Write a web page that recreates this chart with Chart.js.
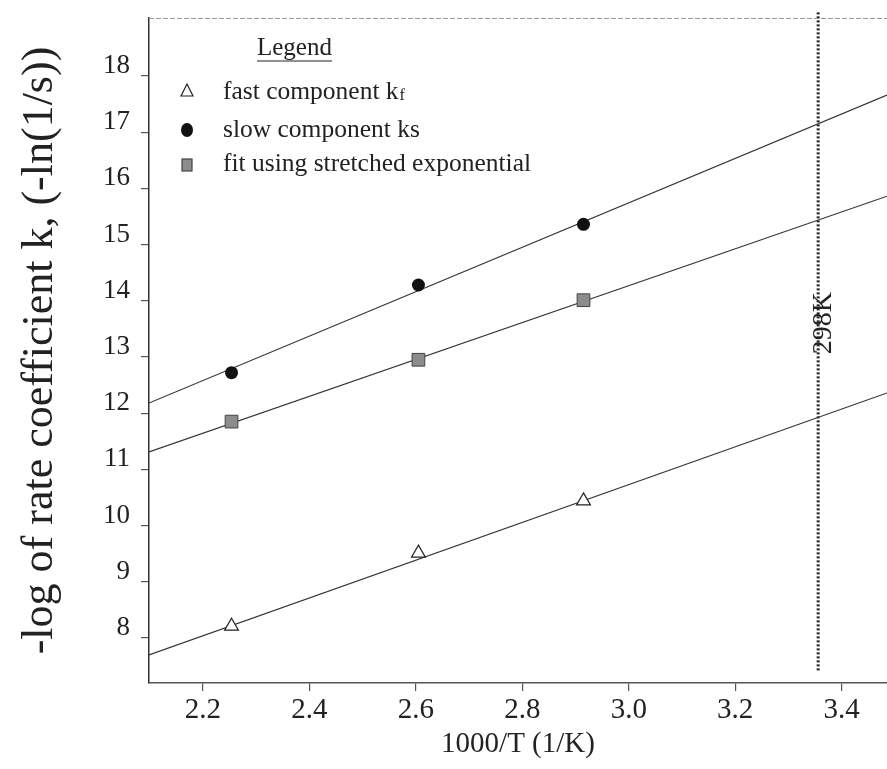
<!DOCTYPE html>
<html>
<head>
<meta charset="utf-8">
<script src="https://cdn.jsdelivr.net/npm/chart.js@4.4.1/dist/chart.umd.min.js"></script>
<style>
  body { margin: 0; background: #fff; }
  #ch1 { display: block; }
</style>
</head>
<body>
<canvas id="ch1" width="887" height="769"></canvas>
<script>
// axis ranges + ticks
var xMin = 2.099, xMax = 3.485;
var yMin = 7.2, yMax = 19.03;
var xTicks = [2.2, 2.4, 2.6, 2.8, 3.0, 3.2, 3.4];
var yTicks = [8, 9, 10, 11, 12, 13, 14, 15, 16, 17, 18];

// measured points (1000/T)
var invTemp = [2.254, 2.605, 2.915];
var fastK = [8.21, 9.51, 10.44];
var slowK = [12.72, 14.28, 15.36];
var fitK = [11.85, 12.95, 14.01];

// fitted lines, value at xMin and xMax
var lineX = [xMin, xMax];
var fastLine = [7.70, 12.36];
var slowLine = [12.18, 17.66];
var fitLine = [11.31, 15.86];

// room temperature marker
var roomTemp = 1000 / 298;
var roomLabel = '298K';

var serif = "'Liberation Serif', 'DejaVu Serif', serif";

function pts(xs, ys) {
  return xs.map(function (x, i) { return { x: x, y: ys[i] }; });
}

// legend + 298K label + top frame drawn on top
var extras = {
  id: 'extras',
  afterDraw: function (chart) {
    var ctx = chart.ctx;
    var area = chart.chartArea;
    var xs = chart.scales.x;
    var ys = chart.scales.y;
    ctx.save();

    // top frame line (faint, dashed like the scan)
    ctx.strokeStyle = '#9a9a9a';
    ctx.lineWidth = 1;
    ctx.setLineDash([5, 2]);
    ctx.beginPath();
    ctx.moveTo(area.left, area.top + 0.5);
    ctx.lineTo(area.right, area.top + 0.5);
    ctx.stroke();
    ctx.setLineDash([]);

    // 298K label, rotated
    ctx.fillStyle = '#222';
    ctx.font = '28px ' + serif;
    ctx.textAlign = 'center';
    ctx.textBaseline = 'middle';
    ctx.translate(xs.getPixelForValue(roomTemp) + 5, ys.getPixelForValue(13.6));
    ctx.rotate(-Math.PI / 2);
    ctx.fillText(roomLabel, 0, 0);
    ctx.setTransform(1, 0, 0, 1, 0, 0);

    // legend box
    ctx.textAlign = 'left';
    ctx.font = '25px ' + serif;
    ctx.fillText('Legend', 257, 48);
    var w = ctx.measureText('Legend').width;
    ctx.strokeStyle = '#222';
    ctx.lineWidth = 1.2;
    ctx.beginPath();
    ctx.moveTo(257, 61);
    ctx.lineTo(257 + w, 61);
    ctx.stroke();

    var mx = 187;
    // triangle
    ctx.beginPath();
    ctx.moveTo(mx, 84);
    ctx.lineTo(mx + 6, 96);
    ctx.lineTo(mx - 6, 96);
    ctx.closePath();
    ctx.fillStyle = '#fff';
    ctx.fill();
    ctx.stroke();
    // circle
    ctx.fillStyle = '#111';
    ctx.beginPath();
    ctx.ellipse(mx, 130, 6, 7, 0, 0, Math.PI * 2);
    ctx.fill();
    // square
    ctx.fillStyle = '#8c8c8c';
    ctx.fillRect(mx - 5, 159, 10, 12);
    ctx.strokeStyle = '#444';
    ctx.strokeRect(mx - 5, 159, 10, 12);

    ctx.fillStyle = '#222';
    ctx.font = '25.5px ' + serif;
    ctx.fillText('fast component k', 223, 92);
    var fw = ctx.measureText('fast component k').width;
    ctx.font = '16px ' + serif;
    ctx.fillText('f', 223 + fw + 1, 96);
    ctx.font = '25.5px ' + serif;
    ctx.fillText('slow component ks', 223, 130);
    ctx.fillText('fit using stretched exponential', 223, 164);

    ctx.restore();
  }
};

var rate = document.getElementById('ch1').getContext('2d');
var myChart = new Chart(rate, {
  type: 'scatter',
  data: {
    datasets: [
      {
        label: 'fast component kf',
        data: pts(invTemp, fastK),
        pointStyle: 'triangle',
        pointRadius: 8,
        backgroundColor: '#fff',
        borderColor: '#222',
        borderWidth: 1.2
      },
      {
        label: 'slow component ks',
        data: pts(invTemp, slowK),
        pointStyle: 'circle',
        pointRadius: 6.5,
        backgroundColor: '#111',
        borderColor: '#111',
        borderWidth: 0
      },
      {
        label: 'fit using stretched exponential',
        data: pts(invTemp, fitK),
        pointStyle: 'rect',
        pointRadius: 9,
        backgroundColor: '#8c8c8c',
        borderColor: '#444',
        borderWidth: 1
      },
      {
        label: 'fast fit',
        data: pts(lineX, fastLine),
        showLine: true,
        pointRadius: 0,
        borderColor: '#333',
        borderWidth: 1.2
      },
      {
        label: 'slow fit',
        data: pts(lineX, slowLine),
        showLine: true,
        pointRadius: 0,
        borderColor: '#333',
        borderWidth: 1.2
      },
      {
        label: 'stretched fit',
        data: pts(lineX, fitLine),
        showLine: true,
        pointRadius: 0,
        borderColor: '#333',
        borderWidth: 1.2
      },
      {
        label: '298K',
        data: [{ x: roomTemp, y: yMax + 0.1 }, { x: roomTemp, y: yMin + 0.2 }],
        showLine: true,
        pointRadius: 0,
        borderColor: '#222',
        borderWidth: 3,
        borderDash: [2, 2],
        clip: false
      }
    ]
  },
  options: {
    responsive: false,
    animation: false,
    layout: { autoPadding: false, padding: { top: 18, right: 0, left: 0, bottom: 0 } },
    plugins: {
      legend: { display: false },
      tooltip: { enabled: false }
    },
    scales: {
      x: {
        type: 'linear',
        min: xMin,
        max: xMax,
        afterBuildTicks: function (s) { s.ticks = xTicks.map(function (v) { return { value: v }; }); },
        afterFit: function (s) {
          s.height = 86;
          s.paddingLeft = 0;
          s.paddingRight = 0;
        },
        ticks: {
          color: '#222',
          padding: 2,
          maxRotation: 0,
          font: { family: serif, size: 29 },
          callback: function (v) { return v.toFixed(1); }
        },
        grid: { drawOnChartArea: false, tickLength: 8, color: '#555', lineWidth: 1.2 },
        border: { color: '#555', width: 1.5, dash: [10, 2] },
        title: {
          display: true,
          text: '1000/T (1/K)',
          color: '#222',
          font: { family: serif, size: 29 },
          padding: { top: 0, bottom: 7 }
        }
      },
      y: {
        type: 'linear',
        min: yMin,
        max: yMax,
        afterBuildTicks: function (s) { s.ticks = yTicks.map(function (v) { return { value: v }; }); },
        afterFit: function (s) {
          s.width = 149;
          s.paddingTop = 0;
          s.paddingBottom = 0;
        },
        ticks: {
          color: '#222',
          padding: 11,
          labelOffset: -10,
          font: { family: serif, size: 27 }
        },
        grid: { drawOnChartArea: false, tickLength: 8, color: '#555', lineWidth: 1.2 },
        border: { color: '#333', width: 1.5 },
        title: {
          display: true,
          text: '-log of rate coefficient k, (-ln(1/s))',
          color: '#222',
          font: { family: serif, size: 44 },
          padding: { top: 14, bottom: 0 }
        }
      }
    }
  },
  plugins: [extras]
});
</script>
</body>
</html>
